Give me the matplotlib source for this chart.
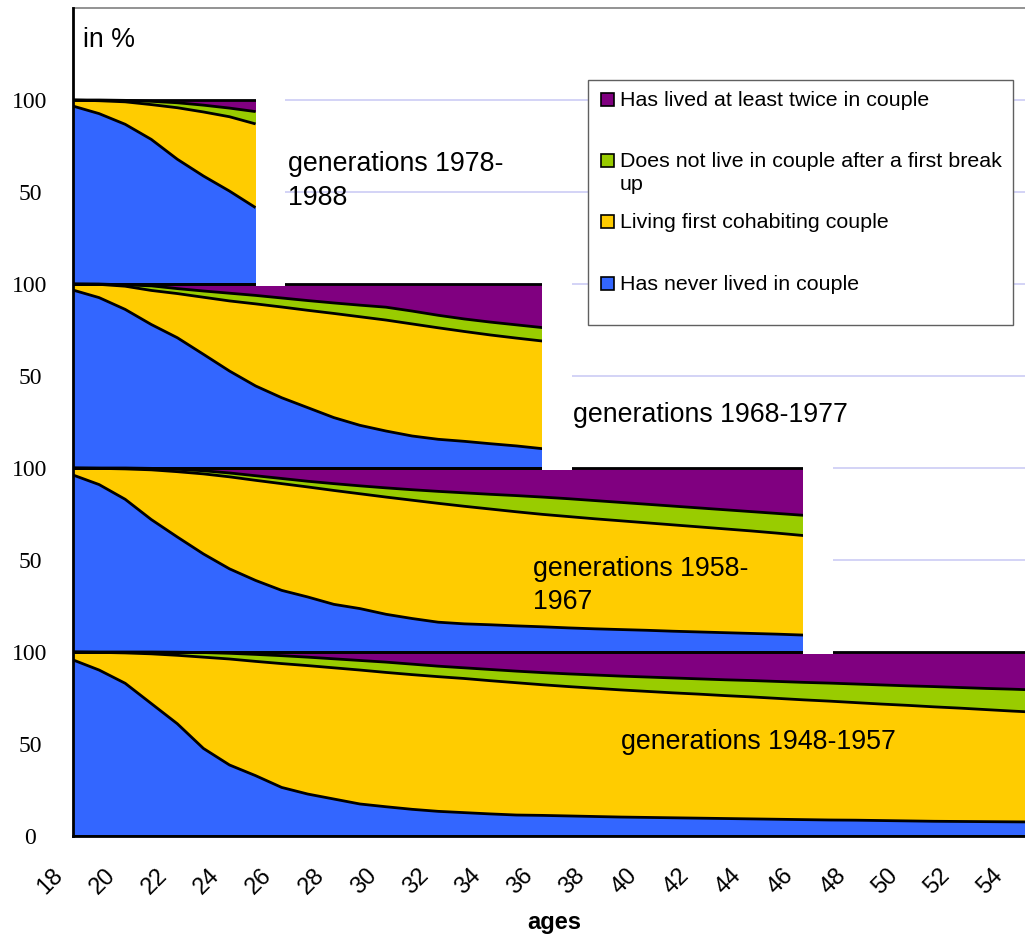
import numpy as np
import matplotlib
matplotlib.use('Agg')
from matplotlib import pyplot as plt
from matplotlib.patches import Rectangle
from matplotlib.transforms import ScaledTranslation

plt.rcParams['font.family'] = ['Liberation Sans', 'DejaVu Sans']

#==============================================================================
# Datos (en %)
#==============================================================================
legend_labels = ['Has lived at least twice in couple',
                 'Does not live in couple after a first break\nup',
                 'Living first cohabiting couple',
                 'Has never lived in couple']
legend_colors = ['#800080', '#99CC00', '#FFCC00', '#3366FF']

ages_1978 = list(range(18, 26))
never_1978 = [96.7, 92.6, 86.8, 78.6, 67.8, 58.7, 50.5, 41.5]
first_1978 = [3.3, 7.0, 12.2, 18.9, 28.0, 34.8, 40.4, 45.5]
after_1978 = [0.0, 0.4, 0.8, 1.8, 2.7, 3.7, 4.7, 6.7]
twice_1978 = [0.0, 0.0, 0.2, 0.7, 1.5, 2.8, 4.4, 6.3]

ages_1968 = list(range(18, 37))
never_1968 = [96.7, 92.6, 86.2, 78.0, 70.8, 61.8, 52.7, 44.6, 38.2, 32.8,
              27.4, 23.2, 20.1, 17.4, 15.6, 14.5, 13.2, 12.0, 10.5]
first_1968 = [3.3, 7.2, 12.6, 18.5, 24.0, 31.0, 38.1, 44.6, 49.3, 52.9,
              56.6, 59.0, 60.3, 60.9, 60.6, 59.7, 59.1, 58.6, 58.5]
after_1968 = [0.0, 0.2, 0.7, 2.5, 2.7, 3.4, 4.2, 4.6, 4.9, 5.3,
              5.7, 6.3, 7.0, 7.0, 6.8, 6.8, 7.0, 7.2, 7.3]
twice_1968 = [0.0, 0.0, 0.5, 1.0, 2.5, 3.8, 5.0, 6.2, 7.6, 9.0,
              10.3, 11.5, 12.6, 14.7, 17.0, 19.0, 20.7, 22.2, 23.7]

ages_1958 = list(range(18, 47))
never_1958 = [96.2, 91.0, 83.0, 72.0, 62.5, 53.3, 45.2, 38.9, 33.5, 29.9,
              25.9, 23.6, 20.5, 18.2, 16.2, 15.3, 14.8, 14.2, 13.7, 13.1,
              12.6, 12.2, 11.8, 11.3, 10.9, 10.5, 10.1, 9.7, 9.2]
first_1958 = [3.8, 8.8, 16.5, 27.0, 35.5, 43.5, 50.0, 54.4, 58.0, 59.8,
              61.9, 62.4, 63.7, 64.3, 64.6, 63.9, 62.9, 62.0, 61.1, 60.5,
              59.8, 59.1, 58.4, 57.8, 57.1, 56.4, 55.7, 54.9, 54.1]
after_1958 = [0.0, 0.2, 0.5, 0.8, 1.3, 1.7, 2.1, 2.5, 2.8, 3.1,
              3.7, 4.3, 5.0, 5.7, 6.5, 7.3, 8.0, 8.8, 9.4, 9.7,
              9.9, 10.0, 10.1, 10.2, 10.3, 10.4, 10.5, 10.7, 11.0]
twice_1958 = [0.0, 0.0, 0.0, 0.2, 0.7, 1.5, 2.7, 4.2, 5.7, 7.2,
              8.5, 9.7, 10.8, 11.8, 12.7, 13.5, 14.3, 15.0, 15.8, 16.7,
              17.7, 18.7, 19.7, 20.7, 21.7, 22.7, 23.7, 24.7, 25.7]

ages_1948 = list(range(18, 56))
never_1948 = [95.7, 90.2, 83.0, 72.0, 61.0, 47.6, 38.6, 32.8, 26.4, 22.8,
              20.1, 17.4, 15.9, 14.5, 13.4, 12.7, 12.0, 11.4, 11.2, 10.9,
              10.6, 10.3, 10.1, 9.9, 9.7, 9.5, 9.3, 9.1, 8.9, 8.7,
              8.6, 8.4, 8.2, 8.0, 7.9, 7.8, 7.7, 7.6]
first_1948 = [4.3, 9.6, 16.5, 27.0, 37.2, 49.6, 57.6, 62.1, 67.3, 69.8,
              71.3, 72.8, 73.0, 73.2, 73.2, 72.9, 72.4, 71.9, 71.0, 70.3,
              69.7, 69.1, 68.5, 67.9, 67.4, 66.8, 66.3, 65.7, 65.1, 64.6,
              63.9, 63.3, 62.8, 62.2, 61.6, 60.9, 60.2, 59.6]
after_1948 = [0.0, 0.2, 0.5, 1.0, 1.7, 2.5, 3.1, 3.8, 4.3, 4.6,
              4.9, 5.2, 5.6, 5.7, 5.7, 5.8, 6.1, 6.3, 6.6, 6.9,
              7.2, 7.5, 7.8, 8.1, 8.3, 8.6, 8.9, 9.2, 9.5, 9.8,
              10.1, 10.4, 10.6, 11.0, 11.2, 11.5, 11.9, 12.1]
twice_1948 = [0.0, 0.0, 0.0, 0.0, 0.1, 0.3, 0.7, 1.3, 2.0, 2.8,
              3.7, 4.6, 5.5, 6.6, 7.7, 8.6, 9.5, 10.4, 11.2, 11.9,
              12.5, 13.1, 13.6, 14.1, 14.6, 15.1, 15.5, 16.0, 16.5, 16.9,
              17.4, 17.9, 18.4, 18.8, 19.3, 19.8, 20.2, 20.7]

gen_labels = ['generations 1948-1957', 'generations 1958-\n1967',
              'generations 1968-1977', 'generations 1978-\n1988']
ytick_labels = ['0', '50', '100', '50', '100', '50', '100', '50', '100']


#==============================================================================
# Grafico
#==============================================================================
fig = plt.figure(figsize=(10.25, 9.38), dpi=100)
ax = fig.add_axes([73/1025, 1-836/938, 952/1025, 828/938])
ax.set_xlim(18, 54.5)
ax.set_ylim(0, 450)

ax.set_axisbelow(True)
ax.set_yticks(np.arange(0, 401, 50))
ax.yaxis.grid(True, color='#ccccf5', lw=1.2)


def panel(ages, never, first, after, twice, base):
    ages = np.array(ages, dtype=float)
    c1 = np.array(never)
    c2 = c1 + np.array(first)
    c3 = c2 + np.array(after)
    c4 = c3 + np.array(twice)
    capas = [(0*c1, c1, legend_colors[3]), (c1, c2, legend_colors[2]),
             (c2, c3, legend_colors[1]), (c3, c4, legend_colors[0])]
    for lo, hi, col in capas:
        ax.fill_between(ages, base+lo, base+hi, color=col, lw=0, zorder=2)
    for c in (0*c1, c1, c2, c3, c4):
        ax.plot(ages, base+c, color='k', lw=2, zorder=3, solid_capstyle='butt')
    return ages[-1]


paneles = [(ages_1948, never_1948, first_1948, after_1948, twice_1948),
           (ages_1958, never_1958, first_1958, after_1958, twice_1958),
           (ages_1968, never_1968, first_1968, after_1968, twice_1968),
           (ages_1978, never_1978, first_1978, after_1978, twice_1978)]
for k, p in enumerate(paneles):
    base = 100*k
    fin = panel(*p, base=base)
    if k > 0:
        ax.add_patch(Rectangle((fin, base-0.9), 1.12, 101.8, facecolor='white',
                               edgecolor='none', zorder=4))

# textos de cada generacion
ax.text(39.0, 51, gen_labels[0], fontsize=19.3, ha='left', va='center', zorder=5)
ax.text(35.64, 136, gen_labels[1], fontsize=19.3, ha='left', va='center',
        linespacing=1.36, zorder=5)
ax.text(37.17, 229, gen_labels[2], fontsize=19.3, ha='left', va='center', zorder=5)
ax.text(26.24, 356, gen_labels[3], fontsize=19.3, ha='left', va='center',
        linespacing=1.36, zorder=5)
ax.text(18.38, 432.6, 'in %', fontsize=19.3, ha='left', va='center', zorder=5)

# ejes
for s in ['left', 'bottom']:
    ax.spines[s].set_color('k')
    ax.spines[s].set_linewidth(2)
    ax.spines[s].set_zorder(6)
ax.spines['top'].set_color('#808080')
ax.spines['top'].set_linewidth(1.2)
ax.spines['right'].set_visible(False)

ax.set_yticklabels(ytick_labels, family='Liberation Serif', fontsize=17)
ax.tick_params(axis='y', length=0, pad=31)
for lab in ax.get_yticklabels():
    lab.set_ha('center')

ax.set_xticks(range(18, 55, 2))
ax.tick_params(axis='x', length=0, pad=26, labelsize=17)
for t in ax.xaxis.get_major_ticks():
    lab = t.label1
    lab.set_rotation(45)
    lab.set_ha('right')
    lab.set_va('center')
    lab.set_rotation_mode('anchor')
    lab.set_transform(lab.get_transform() + ScaledTranslation(-0.13, 0, fig.dpi_scale_trans))

ax.set_xlabel('ages', fontsize=17, fontweight='bold')
ax.xaxis.set_label_coords(0.506, -0.104)
ax.xaxis.label.set_va('center')

# leyenda hecha a mano
fig.patches.append(Rectangle((588/1025, 1-325/938), 425/1025, 245/938,
                             transform=fig.transFigure, facecolor='white',
                             edgecolor='#606060', lw=1, zorder=1))
filas = [100, 173, 222, 284]
for lbl, col, yp in zip(legend_labels, legend_colors, filas):
    ym = yp if '\n' not in lbl else 161
    fig.patches.append(Rectangle((601/1025, 1-(ym+6.5)/938), 13/1025, 13/938,
                                 transform=fig.transFigure, facecolor=col,
                                 edgecolor='k', lw=1.2, zorder=2))
    fig.text(620/1025, 1-yp/938, lbl, fontsize=15.4, ha='left', va='center',
             linespacing=1.3, zorder=3)

plt.savefig('out.png', dpi=100)
plt.close()
